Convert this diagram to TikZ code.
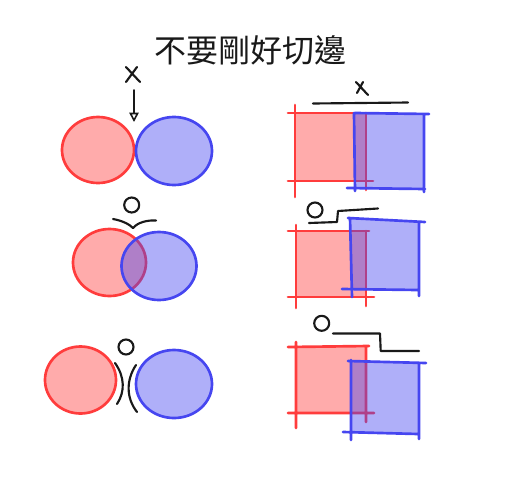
\documentclass[tikz,border=0pt]{standalone}
\usepackage{fontspec}
\newfontfamily\cjk{Noto Sans CJK TC}
\usepackage{tikz}
\usetikzlibrary{arrows.meta}
\definecolor{redc}{RGB}{255,60,60}
\definecolor{bluc}{RGB}{70,70,240}
\definecolor{inkc}{RGB}{25,25,25}

\begin{document}
\begin{tikzpicture}[x=0.75pt,y=-0.75pt,
  redfill/.style={fill=redc,fill opacity=0.43},
  bluefill/.style={fill=bluc,fill opacity=0.43},
  redline/.style={draw=redc,line width=2pt,line cap=round},
  blueline/.style={draw=bluc,line width=2pt,line cap=round},
  ink/.style={draw=inkc,line width=1.6pt,line cap=round,line join=round}]
\useasboundingbox (0,0) rectangle (514,486);
\node[inkc] (title) at (250,50) {\cjk\fontsize{24}{24}\selectfont 不要剛好切邊};
%% left, row 1: touching
\begin{scope}
\path[redfill] (98,150) ellipse (36 and 33);
\draw[redline] (98,150) ellipse (36 and 33);
\path[bluefill] (174,151) ellipse (38 and 34);
\draw[blueline] (174,151) ellipse (38 and 34);
\draw[ink] (126,67) -- (140,82) (137,67) -- (126,82);
\coordinate (xtip) at (134,90);
\coordinate (touch) at (134,122);
\draw[ink,line width=1.2pt,-{Triangle[open,length=7pt,width=7pt]}] (xtip) -- (touch);
\end{scope}
%% left, row 2: overlapping
\begin{scope}
\path[redfill] (109.5,262.5) ellipse (36.5 and 33.5);
\draw[redline] (109.5,262.5) ellipse (36.5 and 33.5);
\path[bluefill] (159,266) ellipse (37.5 and 34);
\draw[blueline] (159,266) ellipse (37.5 and 34);
\draw[ink] (131.7,205) circle (7.5);
\draw[ink] (113,219) .. controls (124,221) and (130,225) .. (133,228)
  .. controls (138,222) and (148,220) .. (156,220.5);
\end{scope}
%% left, row 3: apart
\begin{scope}
\path[redfill] (80.5,380) ellipse (35.5 and 33.5);
\draw[redline] (80.5,380) ellipse (35.5 and 33.5);
\path[bluefill] (174,384) ellipse (38 and 34);
\draw[blueline] (174,384) ellipse (38 and 34);
\draw[ink] (126,347) circle (7.5);
\draw[ink] (115,363) .. controls (125,377) and (125,392) .. (117,404);
\draw[ink] (136,365) .. controls (126,380) and (126,398) .. (137,412);
\end{scope}
%% right, row 1: edges line up
\begin{scope}
\path[redfill] (295,113) rectangle (366,181);
\draw[redline] (288,113) -- (368,113) (288,181) -- (373,181)
  (295,105) -- (295,197) (366,113) -- (366,190);
\path[bluefill] (354,113) rectangle (424,188);
\draw[blueline] (355,113) -- (429,114) (347,188) -- (425,189)
  (354,113) -- (355,191) (424,115) -- (424,192);
\draw[ink] (356,82) -- (368,95) (363,82) -- (357,93);
\draw[ink] (313,103.5) -- (408,102.5);
\end{scope}
%% right, row 2: small overlap
\begin{scope}
\path[redfill] (296,231) rectangle (366,297);
\draw[redline] (288,231) -- (369,231) (288,297) -- (374,297)
  (296,225) -- (296,308) (366,231) -- (366,306);
\path[bluefill] (351,219) -- (419,222) -- (419,290) -- (351,290) -- cycle;
\draw[blueline] (348,218) -- (425,222) (342,289) -- (418,290)
  (350,218) -- (352,297) (419,222) -- (419,296);
\draw[ink] (315,210) circle (7.5);
\draw[ink] (309,223) -- (337,222) -- (338,211) -- (378,208.5);
\end{scope}
%% right, row 3: larger overlap
\begin{scope}
\path[redfill] (296,347) rectangle (366,413);
\draw[redline] (288,347) -- (369,346) (288,413) -- (374,413)
  (296,342) -- (296,428) (366,347) -- (366,422);
\path[bluefill] (351,361) -- (419,363) -- (419,433) -- (351,433) -- cycle;
\draw[blueline] (348,361) -- (426,363) (343,432) -- (418,434)
  (351,360) -- (351,440) (419,363) -- (419,439);
\draw[ink] (321.7,323.3) circle (7.5);
\draw[ink] (333,333.5) -- (380,333.5) -- (380.7,351) -- (419,351);
\end{scope}
\end{tikzpicture}
\end{document}
